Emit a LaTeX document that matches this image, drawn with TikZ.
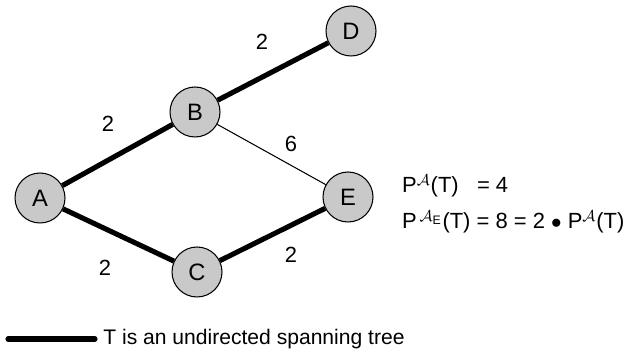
\documentclass[tikz,border=0pt]{standalone}
\usepackage{amsmath,amssymb}
\usepackage{fontspec}
\setmainfont{Liberation Sans}
\usetikzlibrary{positioning}

\begin{document}
\begin{tikzpicture}[x=0.02cm,y=-0.02cm,
  vertex/.style={draw,circle,fill=black!21,line width=0.6pt,minimum size=1cm,
                 inner sep=0pt,font=\fontsize{13.5}{15}\selectfont},
  tree/.style={line width=2.9pt},
  plain/.style={line width=0.6pt},
  wt/.style={font=\fontsize{12.5}{14}\selectfont}]
\useasboundingbox (0,0) rectangle (632,357);
% vertices
\node[vertex] (a) at (40,198) {A};
\node[vertex] (b) at (195,112) {B};
\node[vertex] (c) at (197,272) {C};
\node[vertex] (d) at (351,31) {D};
\node[vertex] (e) at (348,197) {E};
% edges
\draw[tree] (a)--(b); \draw[tree] (b)--(d);
\draw[tree] (a)--(c); \draw[tree] (c)--(e);
\draw[plain] (b)--(e);
% weights
\node[wt] (wab) at (108,124) {2};
\node[wt] (wbd) at (262,42) {2};
\node[wt] (wbe) at (291,144) {6};
\node[wt] (wac) at (105,268) {2};
\node[wt] (wce) at (291,255) {2};
% values
\node[wt,anchor=west] (v1) at (396,186) {P$^{\mathcal{A}}$(T)\ \ \ = 4};
\node[wt,anchor=west] (v2) at (396,222)
  {P$^{\,\mathcal{A}_{\text{\fontsize{7}{8}\selectfont E}}}$(T) = 8 = 2 $\bullet$ P$^{\mathcal{A}}$(T)};
% legend
\coordinate (l1) at (8,339);
\coordinate (l2) at (95,339);
\draw[tree,line cap=round] (l1)--(l2);
\node[anchor=west,inner sep=0pt,font=\fontsize{12}{14}\selectfont] (leg) at (103,339)
  {T is an undirected spanning tree};
\end{tikzpicture}
\end{document}
